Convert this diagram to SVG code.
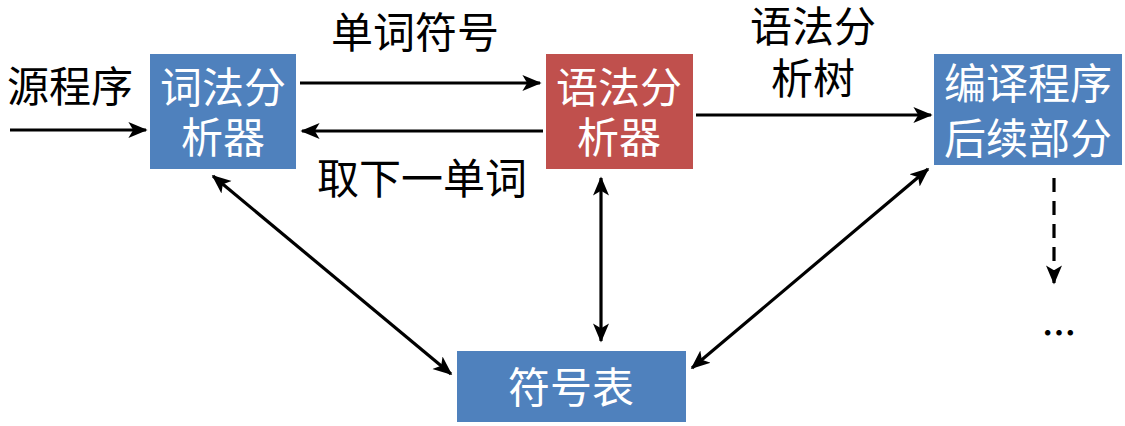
<svg xmlns="http://www.w3.org/2000/svg" width="1125" height="426" viewBox="0 0 1125 426">
  <style>
    .box-blue { fill: #4F81BD; }
    .box-red { fill: #C0504D; }
    .lbl-in { font-family: "Noto Sans CJK SC", "Microsoft YaHei", sans-serif; font-size: 42px; fill: #ffffff; text-anchor: middle; }
    .lbl-out { font-family: "Noto Sans CJK SC", "Microsoft YaHei", sans-serif; font-size: 42px; fill: #000000; text-anchor: middle; }
    .edge { stroke: #000000; stroke-width: 3.2; fill: none; }
    .dash { stroke-dasharray: 14 9; }
  </style>
  <defs>
    <marker id="head" viewBox="0 0 12 10" refX="11" refY="5" markerWidth="6" markerHeight="6" markerUnits="strokeWidth" orient="auto-start-reverse">
      <path d="M0,0 L12,5 L0,10 L3,5 Z" fill="#000000"/>
    </marker>
  </defs>

  <rect width="1125" height="426" fill="#ffffff"/>

  <!-- connectors and their labels -->
  <g id="connectors">
    <line class="edge" x1="10" y1="130" x2="146" y2="130" marker-end="url(#head)"/>
    <line class="edge" x1="300" y1="83" x2="540" y2="83" marker-end="url(#head)"/>
    <line class="edge" x1="543" y1="131" x2="302" y2="131" marker-end="url(#head)"/>
    <line class="edge" x1="696" y1="115" x2="931" y2="115" marker-end="url(#head)"/>
    <line class="edge" x1="213" y1="176" x2="451" y2="374" marker-start="url(#head)" marker-end="url(#head)"/>
    <line class="edge" x1="601" y1="178" x2="601" y2="341" marker-start="url(#head)" marker-end="url(#head)"/>
    <line class="edge" x1="692" y1="368" x2="928" y2="169" marker-start="url(#head)" marker-end="url(#head)"/>
    <line class="edge dash" x1="1054" y1="178" x2="1054" y2="283" marker-end="url(#head)"/>
    <text class="lbl-out" x="415" y="48">单词符号</text>
    <text class="lbl-out" x="422" y="194">取下一单词</text>
    <text class="lbl-out" x="813" y="42">语法分</text>
    <text class="lbl-out" x="813" y="94">析树</text>
  </g>

  <g id="source">
    <text class="lbl-out" x="70" y="102">源程序</text>
  </g>

  <g id="lexer">
    <rect class="box-blue" x="150" y="54" width="146" height="115"/>
    <text class="lbl-in" x="223" y="103">词法分</text>
    <text class="lbl-in" x="223" y="153">析器</text>
  </g>

  <g id="parser">
    <rect class="box-red" x="546" y="54" width="147" height="115"/>
    <text class="lbl-in" x="619" y="103">语法分</text>
    <text class="lbl-in" x="619" y="153">析器</text>
  </g>

  <g id="backend">
    <rect class="box-blue" x="934" y="54" width="188" height="111"/>
    <text class="lbl-in" x="1028" y="99">编译程序</text>
    <text class="lbl-in" x="1028" y="154">后续部分</text>
  </g>

  <g id="symtab">
    <rect class="box-blue" x="457" y="351" width="229" height="71"/>
    <text class="lbl-in" x="571" y="403">符号表</text>
  </g>

  <g id="more">
    <text class="lbl-out" x="1059" y="346" style="font-size:34px;font-weight:bold">…</text>
  </g>
</svg>
